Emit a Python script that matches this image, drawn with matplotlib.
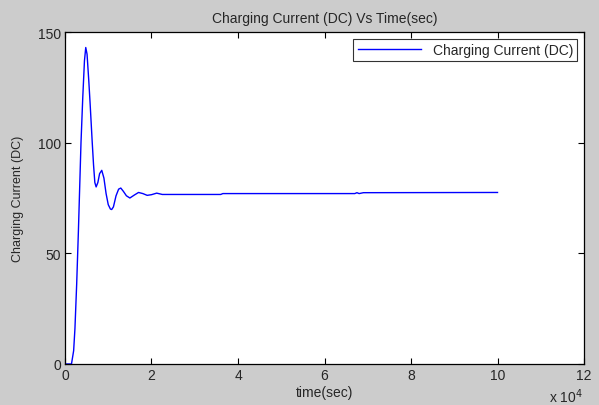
import numpy as np
import matplotlib.pyplot as plt

plt.rcParams['font.family'] = ['Liberation Sans', 'DejaVu Sans']

# time in units of 1e4 sec
time_e4 = [0, 0.15, 0.2, 0.23, 0.27, 0.31, 0.34, 0.37, 0.41, 0.45, 0.48, 0.51,
           0.55, 0.58, 0.63, 0.66, 0.69, 0.72, 0.76, 0.8, 0.85, 0.9, 0.95, 1.0,
           1.05, 1.08, 1.12, 1.18, 1.24, 1.29, 1.35, 1.42, 1.5, 1.6, 1.7, 1.8,
           1.9, 2.0, 2.12, 2.25, 3.6, 3.65, 6.7, 6.75, 6.8, 6.9, 10]
current = [0, 0, 6, 16, 36, 60, 80, 100, 120, 137, 143, 140,
           128, 118, 100, 90, 82, 80, 82, 86, 87.5, 84, 77, 72,
           70, 69.8, 71, 76, 79, 79.5, 78, 76, 75, 76.3, 77.5, 77,
           76.2, 76.5, 77.2, 76.6, 76.6, 77.0, 77.0, 77.4, 77.0, 77.4, 77.5]

xticks = [0, 2, 4, 6, 8, 10, 12]
yticks = [0, 50, 100, 150]

txt = '#262626'
fig = plt.figure(figsize=(5.99, 4.06), dpi=100, facecolor='#cccccc')
ax = fig.add_axes([0.1085, 0.101, 0.8665, 0.8177])
ax.plot(time_e4, current, color='#0000ff', lw=1.0, label='Charging Current (DC)')

ax.set_xlim(0, 12)
ax.set_ylim(0, 150)
ax.set_xticks(xticks)
ax.set_yticks(yticks)
ax.tick_params(direction='in', length=4, width=0.8, labelsize=10,
               top=True, right=True, pad=3, labelcolor=txt)
for s in ax.spines.values():
    s.set_linewidth(0.9)

ax.set_title('Charging Current (DC) Vs Time(sec)', fontsize=10, pad=7, color=txt)
ax.set_xlabel('time(sec)', fontsize=10, labelpad=2, color=txt)
ax.set_ylabel('Charging Current (DC)', fontsize=9, labelpad=10, color=txt)
fig.text(0.916, 0.008, r'x 10$^{4}$', fontsize=10, color=txt)

leg = ax.legend(loc='upper right', fontsize=10, frameon=True, fancybox=False,
                edgecolor='black', borderaxespad=0.5, handlelength=4.6,
                borderpad=0.3)
for t in leg.get_texts():
    t.set_color(txt)
leg.get_frame().set_linewidth(0.8)

fig.savefig('out.png', dpi=100, facecolor=fig.get_facecolor())
